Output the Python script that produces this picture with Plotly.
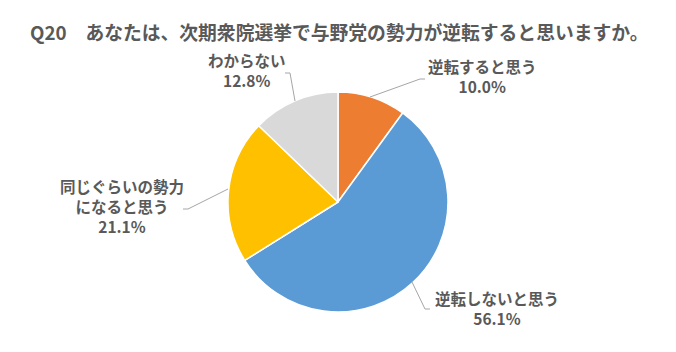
import plotly.graph_objects as go

title = "Q20　あなたは、次期衆院選挙で与野党の勢力が逆転すると思いますか。"
labels = ["逆転すると思う", "逆転しないと思う", "同じぐらいの勢力になると思う", "わからない"]
label_display = ["逆転すると思う", "逆転しないと思う", "同じぐらいの勢力<br>になると思う", "わからない"]
values = [10.0, 56.1, 21.1, 12.8]
colors = ["#ED7D31", "#5B9BD5", "#FFC000", "#D9D9D9"]

W, H = 676, 352
FONT = "Noto Sans CJK JP"

fig = go.Figure(go.Pie(
    labels=labels, values=values, sort=False, direction="clockwise", rotation=0,
    marker=dict(colors=colors, line=dict(color="white", width=1.5)),
    textinfo="none", hoverinfo="label+percent", showlegend=False,
    domain=dict(x=[(338 - 110) / W, (338 + 110) / W], y=[(352 - 312) / H, (352 - 92) / H]),
))

# label block centers (pixels)
label_pos = [(482, 76), (497, 308), (122, 206), (247, 70)]
leaders = [
    [(425, 79), (420, 79), (370, 97)],
    [(412, 282), (425, 309), (430, 309)],
    [(183, 209), (188, 209), (228, 189)],
    [(285, 73), (290, 73), (295, 101)],
]

def px(x): return x / W
def py(y): return 1 - y / H

for lab, val, (x, y) in zip(label_display, values, label_pos):
    fig.add_annotation(x=px(x), y=py(y), xref="paper", yref="paper",
                       text=f"<b>{lab}<br>{val:.1f}%</b>", showarrow=False,
                       font=dict(family=FONT, size=15.5, color="#595959"),
                       align="center", xanchor="center", yanchor="middle")

for pts in leaders:
    path = "M " + " L ".join(f"{px(a)} {py(b)}" for a, b in pts)
    fig.add_shape(type="path", path=path, xref="paper", yref="paper",
                  line=dict(color="#A6A6A6", width=1))

fig.add_annotation(x=px(28), y=py(31), xref="paper", yref="paper",
                   text=f"<b>{title}</b>", showarrow=False,
                   font=dict(family=FONT, size=18.8, color="#595959"),
                   xanchor="left", yanchor="middle")

fig.update_layout(width=W, height=H, margin=dict(l=0, r=0, t=0, b=0),
                  paper_bgcolor="white", plot_bgcolor="white")
fig.write_html("out.html")
